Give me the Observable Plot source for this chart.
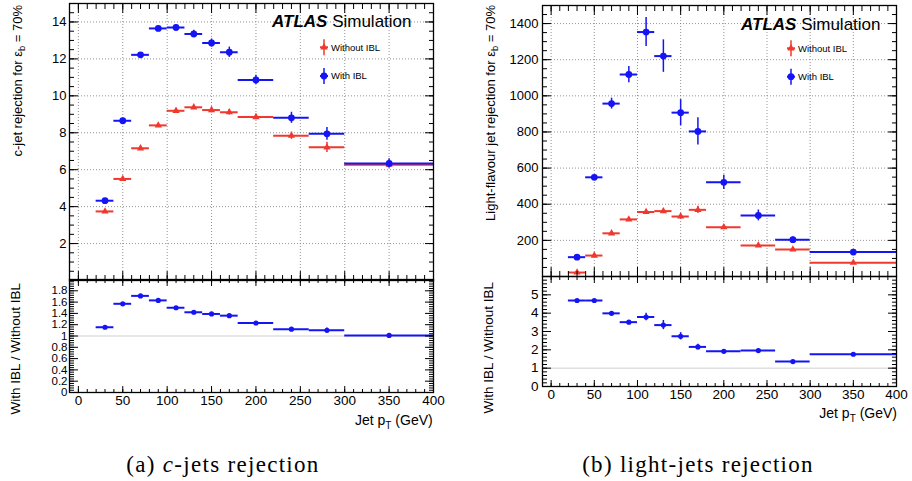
<!DOCTYPE html>
<html>
<head>
<meta charset="utf-8">
<script src="https://cdn.jsdelivr.net/npm/d3@7"></script>
<script src="https://cdn.jsdelivr.net/npm/@observablehq/plot@0.6"></script>
<style>
  html, body { margin: 0; padding: 0; background: #fff; }
  #root { position: relative; width: 912px; height: 481px; overflow: hidden; font-family: "Liberation Sans", Arial, sans-serif; }
  #root svg { position: absolute; }
</style>
</head>
<body>
<div id="root"></div>
<script>
// ---------- data ----------
const binLow    = [20, 40, 60, 80, 100, 120, 140, 160, 180, 220, 260, 300];
const binHigh   = [40, 60, 80, 100, 120, 140, 160, 180, 220, 260, 300, 400];
const binCenter = [30, 50, 70, 90, 110, 130, 150, 170, 200, 240, 280, 350];

// (a) c-jet rejection
const cWith       = [4.32, 8.65, 12.22, 13.65, 13.70, 13.35, 12.86, 12.36, 10.86, 8.81, 7.94, 6.34];
const cWithErr    = [0.06, 0.10, 0.10, 0.12, 0.15, 0.20, 0.22, 0.28, 0.25, 0.30, 0.35, 0.25];
const cWithout    = [3.74, 5.50, 7.16, 8.40, 9.19, 9.38, 9.23, 9.11, 8.85, 7.84, 7.21, 6.27];
const cWithoutErr = [0.05, 0.06, 0.08, 0.08, 0.10, 0.10, 0.15, 0.15, 0.15, 0.20, 0.28, 0.18];
const cRatio      = [1.155, 1.57, 1.71, 1.63, 1.50, 1.42, 1.39, 1.36, 1.23, 1.12, 1.10, 1.01];
const cRatioErr   = [0.02, 0.02, 0.02, 0.02, 0.02, 0.02, 0.02, 0.02, 0.02, 0.02, 0.04, 0.03];

// (b) light-flavour jet rejection
const lWith       = [107, 549, 957, 1118, 1353, 1220, 907, 803, 521, 338, 204, 135];
const lWithErr    = [6, 10, 30, 45, 80, 90, 72, 75, 40, 30, 15, 6];
const lWithout    = [22, 116, 239, 316, 357, 362, 332, 369, 273, 172, 150, 76];
const lWithoutErr = [8, 10, 10, 10, 10, 10, 14, 20, 8, 8, 8, 5];
const lRatio      = [4.69, 4.69, 3.99, 3.51, 3.79, 3.35, 2.74, 2.16, 1.92, 1.96, 1.36, 1.76];
const lRatioErr   = [0.04, 0.04, 0.05, 0.08, 0.20, 0.25, 0.20, 0.15, 0.06, 0.10, 0.06, 0.04];

// tick values
const xMajor = [0, 50, 100, 150, 200, 250, 300, 350, 400];
const xMinor = d3.range(-10, 401, 10);
const cYMajor = [2, 4, 6, 8, 10, 12, 14];
const cYMinor = d3.range(0, 15.01, 0.5);
const lYMajor = [200, 400, 600, 800, 1000, 1200, 1400];
const lYMinor = d3.range(0, 1501, 50);
const cRYMajor = [0, 0.2, 0.4, 0.6, 0.8, 1, 1.2, 1.4, 1.6, 1.8];
const cRYMinor = d3.range(0, 2.001, 0.04);
const lRYMajor = [0, 1, 2, 3, 4, 5];
const lRYMinor = d3.range(0, 6.01, 0.2);

const BLUE = "#1414f5";
const RED = "#f0392e";
const FONT = "Liberation Sans, Arial, sans-serif";
const plain = d => String(+d.toFixed(2));

function rows(vals, errs) {
  return binCenter.map((c, i) => ({x: c, lo: binLow[i], hi: binHigh[i], y: vals[i], e: errs[i]}));
}

function frameTicks(xMaj, xMin, yMaj, yMin, tx, ty) {
  const f = () => "";
  const o = {tickFormat: f, label: null, strokeWidth: 1};
  return [
    Plot.axisX(xMaj, {...o, anchor: "bottom", tickSize: -tx[0]}),
    Plot.axisX(xMin, {...o, anchor: "bottom", tickSize: -tx[1]}),
    Plot.axisX(xMaj, {...o, anchor: "top", tickSize: -tx[0]}),
    Plot.axisX(xMin, {...o, anchor: "top", tickSize: -tx[1]}),
    Plot.axisY(yMaj, {...o, anchor: "left", tickSize: -ty[0]}),
    Plot.axisY(yMin, {...o, anchor: "left", tickSize: -ty[1]}),
    Plot.axisY(yMaj, {...o, anchor: "right", tickSize: -ty[0]}),
    Plot.axisY(yMin, {...o, anchor: "right", tickSize: -ty[1]})
  ];
}

function series(data, color, symbol, r) {
  return [
    Plot.ruleY(data, {y: "y", x1: "lo", x2: "hi", stroke: color, strokeWidth: 2}),
    Plot.ruleX(data, {x: "x", y1: d => d.y - d.e, y2: d => d.y + d.e, stroke: color, strokeWidth: 1.5}),
    Plot.dot(data, {x: "x", y: "y", r: r, symbol: symbol, fill: color, stroke: "none"})
  ];
}

function mainPlot(opts) {
  return Plot.plot({
    width: 456, height: opts.height,
    marginLeft: opts.ml, marginRight: opts.mr, marginTop: opts.mt, marginBottom: 0,
    x: {domain: [-10, 400]},
    y: {domain: opts.yDomain},
    style: {fontFamily: FONT, fontSize: "13px", color: "black", background: "transparent", overflow: "visible"},
    marks: [
      Plot.gridX(xMajor, {stroke: "#777", strokeOpacity: 1, strokeDasharray: "1,2", strokeWidth: 0.8}),
      Plot.gridY(opts.yMajor, {stroke: "#777", strokeOpacity: 1, strokeDasharray: "1,2", strokeWidth: 0.8}),
      ...series(rows(opts.wo, opts.woErr), RED, "triangle", 2.7),
      ...series(rows(opts.w, opts.wErr), BLUE, "circle", 3.4),
      ...frameTicks(xMajor, xMinor, opts.yMajor, opts.yMinor, [9, 5], [9, 5]),
      Plot.axisY(opts.yMajor, {anchor: "left", tickSize: 0, tickPadding: opts.pad, label: null, fontSize: 13, tickFormat: plain}),
      Plot.frame({stroke: "black", strokeWidth: 1.3})
    ]
  });
}

function ratioPlot(opts) {
  return Plot.plot({
    width: 456, height: opts.height,
    marginLeft: opts.ml, marginRight: opts.mr, marginTop: 0, marginBottom: opts.mb,
    x: {domain: [-10, 400]},
    y: {domain: opts.yDomain},
    style: {fontFamily: FONT, fontSize: "13px", color: "black", background: "transparent", overflow: "visible"},
    marks: [
      Plot.ruleY([1], {stroke: "#cfcfcf", strokeWidth: 1}),
      ...series(rows(opts.r, opts.rErr), BLUE, "circle", 2.6),
      ...frameTicks(xMajor, xMinor, opts.yMajor, opts.yMinor, [6, 3], [9, 5]),
      Plot.axisY(opts.yMajor, {anchor: "left", tickSize: 0, tickPadding: opts.pad, label: null, fontSize: opts.yfs,
        tickFormat: plain}),
      Plot.axisX(xMajor, {anchor: "bottom", tickSize: 0, tickPadding: 3, label: null, fontSize: 13.5}),
      Plot.frame({stroke: "black", strokeWidth: 1.3})
    ]
  });
}

const root = document.getElementById("root");
function place(node, left, top) {
  node.style.left = left + "px";
  node.style.top = top + "px";
  root.appendChild(node);
}

// (a) panels
place(mainPlot({height: 280, ml: 69, mr: 23, mt: 3, yDomain: [0, 15],
  yMajor: cYMajor, yMinor: cYMinor, w: cWith, wErr: cWithErr, wo: cWithout, woErr: cWithoutErr, pad: 3}), 0, 0);
place(ratioPlot({height: 150, ml: 69, mr: 23, mb: 37, yDomain: [0, 2],
  yMajor: cRYMajor, yMinor: cRYMinor, r: cRatio, rErr: cRatioErr, pad: 2, yfs: 11.5}), 0, 279);

// (b) panels
place(mainPlot({height: 276, ml: 86, mr: 16, mt: 5, yDomain: [0, 1500],
  yMajor: lYMajor, yMinor: lYMinor, w: lWith, wErr: lWithErr, wo: lWithout, woErr: lWithoutErr, pad: 4}), 456, 0);
place(ratioPlot({height: 150, ml: 86, mr: 16, mb: 40, yDomain: [0, 6],
  yMajor: lRYMajor, yMinor: lRYMinor, r: lRatio, rErr: lRatioErr, pad: 4, yfs: 13.5}), 456, 276);

// ---------- overlay text ----------
const ov = d3.select(root).append("svg")
  .attr("width", 912).attr("height", 481)
  .style("left", "0px").style("top", "0px")
  .attr("font-family", FONT);

function atlas(x, y) {
  const t = ov.append("text").attr("x", x).attr("y", y).attr("font-size", 17);
  t.append("tspan").attr("font-weight", "bold").attr("font-style", "italic").text("ATLAS");
  t.append("tspan").text(" Simulation");
}
atlas(272, 27.3);
atlas(741, 30);

function legendEntry(x, y, ty, color, symbol, label) {
  ov.append("line").attr("x1", x).attr("x2", x).attr("y1", y - 8).attr("y2", y + 8).attr("stroke", color).attr("stroke-width", 1.5);
  ov.append("line").attr("x1", x - 4).attr("x2", x + 4).attr("y1", y).attr("y2", y).attr("stroke", color).attr("stroke-width", 2);
  ov.append("path").attr("transform", `translate(${x},${y})`)
    .attr("d", d3.symbol(symbol === "triangle" ? d3.symbolTriangle : d3.symbolCircle, symbol === "triangle" ? 23 : 36)())
    .attr("fill", color);
  ov.append("text").attr("x", x + 7).attr("y", ty).attr("font-size", 9.5).text(label);
}
legendEntry(324, 47.3, 50.7, RED, "triangle", "Without IBL");
legendEntry(324, 76, 79.3, BLUE, "circle", "With IBL");
legendEntry(791, 48.3, 52.3, RED, "triangle", "Without IBL");
legendEntry(791, 76.7, 80, BLUE, "circle", "With IBL");

function yTitle(x, y, size, parts) {
  const t = ov.append("text").attr("transform", `translate(${x},${y}) rotate(-90)`)
    .attr("text-anchor", "end").attr("font-size", size);
  parts.forEach(p => {
    const s = t.append("tspan").text(p.t);
    if (p.sub) s.attr("dy", 3).attr("font-size", size * 0.72);
    if (p.back) s.attr("dy", -3);
  });
}
yTitle(22, 5, 13, [{t: "c-jet rejection for ε"}, {t: "b", sub: true}, {t: " = 70%", back: true}]);
yTitle(495, 5, 13, [{t: "Light-flavour jet rejection for ε"}, {t: "b", sub: true}, {t: " = 70%", back: true}]);
yTitle(20, 283, 13.5, [{t: "With IBL / Without IBL"}]);
yTitle(493, 282, 13.5, [{t: "With IBL / Without IBL"}]);

function xTitle(x, y) {
  const t = ov.append("text").attr("x", x).attr("y", y).attr("text-anchor", "end").attr("font-size", 14);
  t.append("tspan").text("Jet p");
  t.append("tspan").attr("dy", 4).attr("font-size", 10).text("T");
  t.append("tspan").attr("dy", -4).text(" (GeV)");
}
xTitle(432.7, 425);
xTitle(897, 418);

function caption(x, y, parts) {
  const t = ov.append("text").attr("x", x).attr("y", y).attr("text-anchor", "middle")
    .attr("font-family", "Liberation Serif, 'DejaVu Serif', serif").attr("font-size", 23)
    .attr("letter-spacing", 1.3);
  parts.forEach(p => {
    const s = t.append("tspan").text(p.t);
    if (p.i) s.attr("font-style", "italic");
  });
}
caption(223, 472, [{t: "(a) "}, {t: "c", i: true}, {t: "-jets rejection"}]);
caption(698, 472, [{t: "(b) light-jets rejection"}]);
</script>
</body>
</html>
